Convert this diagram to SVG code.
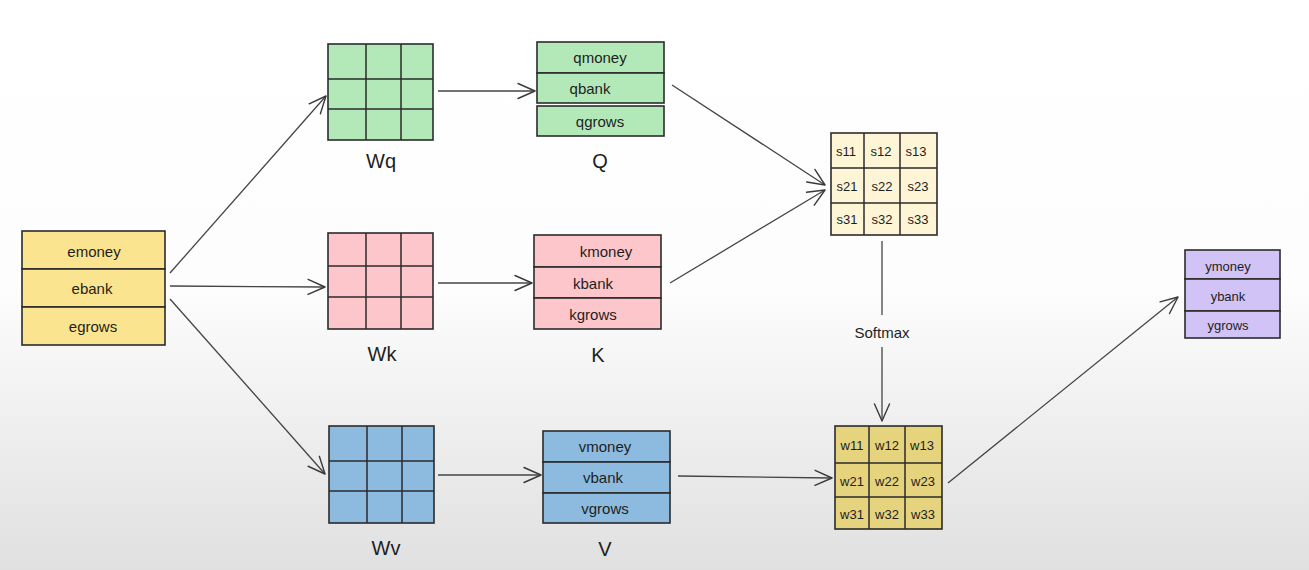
<svg xmlns="http://www.w3.org/2000/svg" width="1309" height="570" viewBox="0 0 1309 570">
<defs>
<linearGradient id="bg" x1="0" y1="0" x2="0" y2="570" gradientUnits="userSpaceOnUse">
<stop offset="0" stop-color="#ffffff"/>
<stop offset="0.5" stop-color="#fdfdfd"/>
<stop offset="1" stop-color="#e0e0e0"/>
</linearGradient>
<marker id="arr" markerWidth="22" markerHeight="20" refX="18" refY="9" orient="auto" markerUnits="userSpaceOnUse">
<path d="M1,1.5 L18,9 L1,16.5" fill="none" stroke="#3a3a3a" stroke-width="1.4" stroke-linecap="round" stroke-linejoin="round"/>
</marker>
</defs>
<style>
.box{stroke:#2b2b2b;stroke-width:1.6}
.ln{stroke:#2b2b2b;stroke-width:1.5;fill:none}
.t{font-family:"Liberation Sans","DejaVu Sans",sans-serif;font-size:15px;fill:#1e1e1e;text-anchor:middle;dominant-baseline:central}
.s{font-family:"Liberation Sans","DejaVu Sans",sans-serif;font-size:13px;fill:#1e1e1e;text-anchor:middle;dominant-baseline:central}
.lab{font-family:"Liberation Sans","DejaVu Sans",sans-serif;font-size:20px;fill:#1e1e1e;text-anchor:middle;dominant-baseline:central}
.c{stroke:#444;stroke-width:1.3;fill:none;marker-end:url(#arr)}
.g{fill:#b3e9b9}.p{fill:#fdc6ca}.b{fill:#8dbbe0}.y{fill:#fbe48f}.cr{fill:#fdf5d6}.kh{fill:#e6d37d}.v{fill:#d2c3f6}
</style>
<rect width="1309" height="570" fill="url(#bg)"/>

<g id="connectors">
<line class="c" x1="170" y1="273" x2="326" y2="96"/>
<line class="c" x1="170" y1="286" x2="325" y2="287"/>
<line class="c" x1="170" y1="299" x2="325" y2="474"/>
<line class="c" x1="438" y1="91" x2="535" y2="91"/>
<line class="c" x1="438" y1="283" x2="532" y2="283"/>
<line class="c" x1="438" y1="475" x2="541" y2="475"/>
<line class="c" x1="672" y1="85" x2="825" y2="185"/>
<line class="c" x1="670" y1="283" x2="825" y2="190"/>
<line class="ln" x1="882" y1="241" x2="882" y2="315" style="stroke:#444;stroke-width:1.3"/>
<line class="c" x1="882" y1="347" x2="882" y2="421"/>
<line class="c" x1="678" y1="476" x2="832" y2="478"/>
<line class="c" x1="948" y1="483" x2="1178" y2="297"/>
<text class="t" x="882" y="332">Softmax</text>
</g>

<g id="e">
<rect class="box y" x="22" y="231" width="143" height="38"/>
<rect class="box y" x="22" y="269" width="143" height="38"/>
<rect class="box y" x="22" y="307" width="143" height="38"/>
<text class="t" x="94" y="251">emoney</text>
<text class="t" x="92" y="288">ebank</text>
<text class="t" x="93" y="326">egrows</text>
</g>

<g id="Wq">
<rect class="box g" x="328" y="44" width="105" height="96"/>
<path class="ln" d="M366,44 V140 M401,44 V140 M328,79 H433 M328,109 H433"/>
<text class="lab" x="381" y="161">Wq</text>
</g>

<g id="Q">
<rect class="box g" x="537" y="42" width="127" height="31"/>
<rect class="box g" x="537" y="73" width="127" height="30"/>
<rect class="box g" x="537" y="106" width="127" height="30"/>
<text class="t" x="600" y="57">qmoney</text>
<text class="t" x="590" y="88">qbank</text>
<text class="t" x="600" y="121">qgrows</text>
<text class="lab" x="600" y="161">Q</text>
</g>

<g id="Wk">
<rect class="box p" x="328" y="233" width="105" height="96"/>
<path class="ln" d="M366,233 V329 M401,233 V329 M328,266 H433 M328,297 H433"/>
<text class="lab" x="382" y="354">Wk</text>
</g>

<g id="K">
<rect class="box p" x="534" y="235" width="127" height="32"/>
<rect class="box p" x="534" y="267" width="127" height="31"/>
<rect class="box p" x="534" y="298" width="127" height="31"/>
<text class="t" x="606" y="251">kmoney</text>
<text class="t" x="593" y="283">kbank</text>
<text class="t" x="593" y="314">kgrows</text>
<text class="lab" x="598" y="355">K</text>
</g>

<g id="Wv">
<rect class="box b" x="329" y="426" width="105" height="97"/>
<path class="ln" d="M367,426 V523 M402,426 V523 M329,461 H434 M329,491 H434"/>
<text class="lab" x="386" y="548">Wv</text>
</g>

<g id="V">
<rect class="box b" x="543" y="431" width="127" height="31"/>
<rect class="box b" x="543" y="462" width="127" height="31"/>
<rect class="box b" x="543" y="493" width="127" height="30"/>
<text class="t" x="605" y="446">vmoney</text>
<text class="t" x="603" y="477">vbank</text>
<text class="t" x="605" y="508">vgrows</text>
<text class="lab" x="605" y="549">V</text>
</g>

<g id="S">
<rect class="box cr" x="831" y="133" width="106" height="102"/>
<path class="ln" d="M864,133 V235 M900,133 V235 M831,168 H937 M831,203 H937"/>
<text class="s" x="846" y="151">s11</text>
<text class="s" x="881" y="151">s12</text>
<text class="s" x="916" y="151">s13</text>
<text class="s" x="847" y="186">s21</text>
<text class="s" x="882" y="186">s22</text>
<text class="s" x="918" y="186">s23</text>
<text class="s" x="847" y="219">s31</text>
<text class="s" x="882" y="219">s32</text>
<text class="s" x="918" y="219">s33</text>
</g>

<g id="W">
<rect class="box kh" x="835" y="426" width="107" height="103"/>
<path class="ln" d="M869,426 V529 M905,426 V529 M835,463 H942 M835,497 H942"/>
<text class="s" x="852" y="445">w11</text>
<text class="s" x="887" y="445">w12</text>
<text class="s" x="922" y="445">w13</text>
<text class="s" x="852" y="481">w21</text>
<text class="s" x="887" y="481">w22</text>
<text class="s" x="923" y="481">w23</text>
<text class="s" x="852" y="514">w31</text>
<text class="s" x="887" y="514">w32</text>
<text class="s" x="923" y="514">w33</text>
</g>

<g id="Y">
<rect class="box v" x="1185" y="250" width="95" height="29"/>
<rect class="box v" x="1185" y="279" width="95" height="32"/>
<rect class="box v" x="1185" y="311" width="95" height="27"/>
<text class="s" x="1228" y="266">ymoney</text>
<text class="s" x="1228" y="296">ybank</text>
<text class="s" x="1228" y="325">ygrows</text>
</g>
</svg>
